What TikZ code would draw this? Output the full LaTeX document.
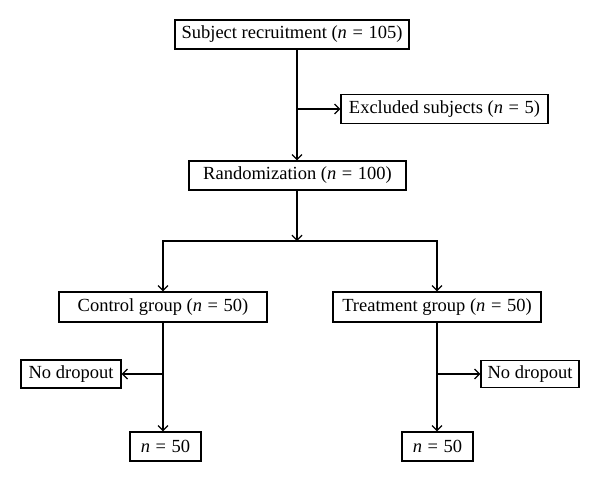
\documentclass[tikz,border=0pt]{standalone}
\usepackage{fontspec}
\setmainfont{Liberation Serif}
\usetikzlibrary{arrows.meta}
\newcommand{\eqs}{\hspace{0.3em}=\hspace{0.3em}}
\begin{document}
\begin{tikzpicture}[x=1pt,y=-1pt,
  box/.style={draw,line width=1.3pt,inner sep=0pt,minimum height=29pt,font=\fontsize{18.5}{22}\selectfont},
  arr/.style={line width=1.3pt,-{Straight Barb[length=5pt,width=10pt,line width=1.2pt]}}]
\useasboundingbox (0,0) rectangle (600,482);
\node[box,minimum width=234pt] (rec) at (292,34.5) {Subject recruitment (\textit{n}\eqs105)};
\node[box,minimum width=207pt] (exc) at (444.5,109) {Excluded subjects (\textit{n}\eqs5)};
\node[box,minimum width=217pt] (rnd) at (297.5,175.5) {Randomization (\textit{n}\eqs100)};
\node[box,minimum width=208pt,minimum height=30pt] (ctl) at (163,307) {Control group (\textit{n}\eqs50)};
\node[box,minimum width=208pt,minimum height=30pt] (trt) at (437,307) {Treatment group (\textit{n}\eqs50)};
\node[box,minimum width=100pt,minimum height=28pt] (nd1) at (71,374) {No dropout};
\node[box,minimum width=98pt,minimum height=27pt] (nd2) at (530,374) {No dropout};
\node[box,minimum width=71pt] (n1) at (165.5,446.5) {\textit{n}\eqs50};
\node[box,minimum width=71pt] (n2) at (437.5,446.5) {\textit{n}\eqs50};
\coordinate (top) at (297,49);
\coordinate (bar) at (297,241);
\draw[arr] (top) -- (top |- rnd.north);
\draw[arr] (top |- exc.west) -- (exc.west);
\draw[arr] (top |- rnd.south) -- (bar);
\draw[arr] (bar) -| (ctl.north);
\draw[arr] (bar) -| (trt.north);
\draw[arr] (ctl.south) -- (ctl.south |- n1.north);
\draw[arr] (ctl.south |- nd1.east) -- (nd1.east);
\draw[arr] (trt.south) -- (trt.south |- n2.north);
\draw[arr] (trt.south |- nd2.west) -- (nd2.west);
\end{tikzpicture}
\end{document}
